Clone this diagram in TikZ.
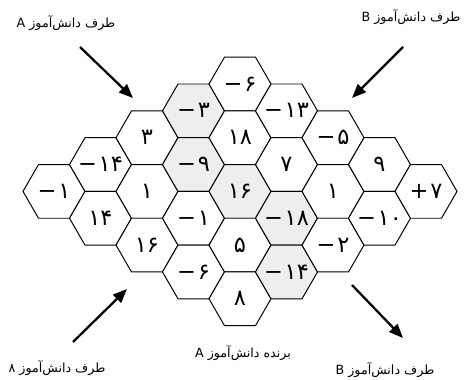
\documentclass[tikz,border=0pt]{standalone}
\usepackage{fontspec}
\newfontfamily\farsi[Script=Arabic]{DejaVu Sans}
\TeXXeTstate=1
\usetikzlibrary{shapes.geometric, arrows.meta}
\definecolor{cellgray}{HTML}{EEEEEE}
\newcommand{\sgn}[1]{\mbox{#1}\hspace{0.08em}}
\tikzset{
	hexcell/.style={regular polygon, regular polygon sides=6, minimum size=1.55cm,
		inner sep=0pt, draw, line width=0.7pt, font=\farsi\fontsize{16}{16}\selectfont}
}
\tikzset{
	sidetext/.style={font=\farsi\fontsize{9}{10}\selectfont}
}
\tikzset{
	bigarrow/.style={line width=1.6pt, -{Triangle[length=10pt,width=8pt]}}
}

\begin{document}
\begin{tikzpicture}[x=0.025cm, y=-0.025cm]
      \useasboundingbox (0,0) rectangle (469,380);
      % board: column / half-row / value / fill
      \foreach \c/\r/\v/\f in {
        0/4/{\sgn{−}۱}/white,
        1/3/{\sgn{−}۱۴}/white, 1/5/{۱۴}/white,
        2/2/{۳}/white, 2/4/{۱}/white, 2/6/{۱۶}/white,
        3/1/{\sgn{−}۳}/cellgray, 3/3/{\sgn{−}۹}/cellgray, 3/5/{\sgn{−}۱}/white, 3/7/{\sgn{−}۶}/white,
        4/0/{\sgn{−}۶}/white, 4/2/{۱۸}/white, 4/4/{۱۶}/cellgray, 4/6/{۵}/white, 4/8/{۸}/white,
        5/1/{\sgn{−}۱۳}/white, 5/3/{۷}/white, 5/5/{\sgn{−}۱۸}/cellgray, 5/7/{\sgn{−}۱۴}/cellgray,
        6/2/{\sgn{−}۵}/white, 6/4/{۱}/white, 6/6/{\sgn{−}۲}/white,
        7/3/{۹}/white, 7/5/{\sgn{−}۱۰}/white,
        8/4/{\sgn{+}۷}/white}
        \node[hexcell, fill=\f] (h\c\r) at ({54+46.5*\c},{84+26.85*\r}) {\makebox[0pt]{\v}};
      % arrows toward the board
      \coordinate (tlS) at (80,47);   \coordinate (tlE) at (133,98);
      \coordinate (trS) at (403,47);  \coordinate (trE) at (352,98);
      \coordinate (blS) at (73,342);  \coordinate (blE) at (127,289);
      \coordinate (brS) at (352,285); \coordinate (brE) at (403,338);
      \draw[bigarrow] (tlS) -- (tlE);
      \draw[bigarrow] (trS) -- (trE);
      \draw[bigarrow] (blS) -- (blE);
      \draw[bigarrow] (brS) -- (brE);
      % labels
      \node[sidetext] (tlLab) at (66,23) {\beginR طرف دانش‌آموز A\endR};
      \node[sidetext] (trLab) at (411,17) {\beginR طرف دانش‌آموز B\endR};
      \node[sidetext] (blLab) at (57,368) {\beginR طرف دانش‌آموز ۸\endR};
      \node[sidetext] (bmLab) at (243,353) {\beginR برنده دانش‌آموز A\endR};
      \node[sidetext] (brLab) at (385,370) {\beginR طرف دانش‌آموز B\endR};
    \end{tikzpicture}
\end{document}
